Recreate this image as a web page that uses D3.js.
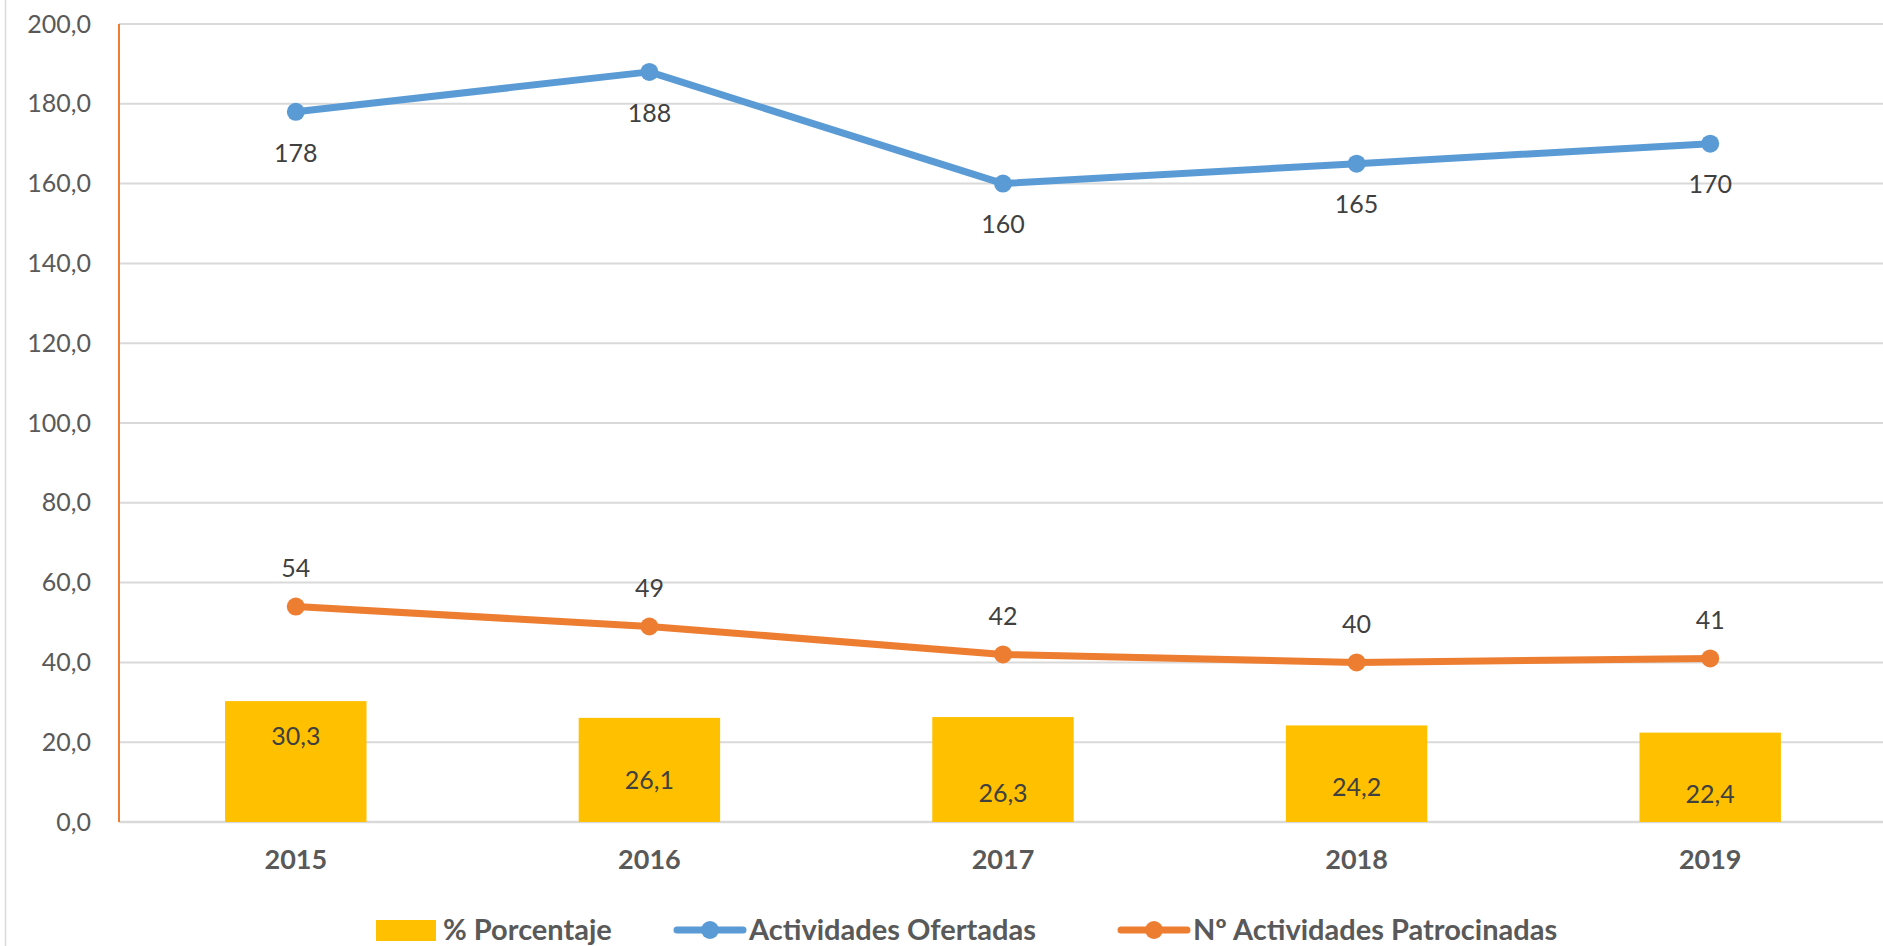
<!DOCTYPE html>
<html>
<head>
<meta charset="utf-8">
<script src="https://cdn.jsdelivr.net/npm/d3@7"></script>
<style>
body { margin: 0; background: #fff; }
svg, svg text { font-family: Lato, "Open Sans", sans-serif; }
svg { display: block; }
.tick text { fill: #595959; }
</style>
</head>
<body>
<div id="chart"></div>
<script>
var years = ["2015", "2016", "2017", "2018", "2019"];
var porcentaje = [30.3, 26.1, 26.3, 24.2, 22.4];
var ofertadas = [178, 188, 160, 165, 170];
var patrocinadas = [54, 49, 42, 40, 41];
var yTicks = [0, 20, 40, 60, 80, 100, 120, 140, 160, 180, 200];

// where Excel dropped the bar labels (px below bar top)
var barLabelDy = [35, 62, 76, 62, 62];

var W = 1883, H = 946;
var margin = {top: 24, left: 119, bottom: 124};
var plotRight = 119 + 5 * 353.6;

var svg = d3.select("#chart").append("svg")
  .attr("width", W)
  .attr("height", H);

// chart frame edge on the left
svg.append("line")
  .attr("x1", 5.5).attr("x2", 5.5)
  .attr("y1", 0).attr("y2", H)
  .attr("stroke", "#d9d9d9").attr("stroke-width", 1.5);

var x = d3.scaleBand()
  .domain(years)
  .range([margin.left, plotRight])
  .paddingInner(0.6)
  .paddingOuter(0.3);

var xPoint = function(d){ return x(d) + x.bandwidth() / 2; };

var y = d3.scaleLinear()
  .domain([0, 200])
  .range([H - margin.bottom, margin.top]);

// gridlines
svg.append("g")
  .selectAll("line")
  .data(yTicks)
  .enter()
  .append("line")
  .attr("x1", margin.left)
  .attr("x2", W)
  .attr("y1", function(d){ return y(d); })
  .attr("y2", function(d){ return y(d); })
  .attr("stroke", "#d9d9d9")
  .attr("stroke-width", function(d){ return d == 0 ? 2.5 : 2; });

// y axis
var yAxis = svg.append("g")
  .attr("transform", "translate(" + margin.left + ",0)")
  .call(d3.axisLeft(y).tickValues(yTicks).tickSize(0).tickPadding(28)
    .tickFormat(function(d){ return d3.format(".1f")(d).replace(".", ","); }));
yAxis.attr("font-family", null);
yAxis.select(".domain").remove();
yAxis.selectAll("text").style("font-size", "25px");

svg.append("line")
  .attr("x1", margin.left).attr("x2", margin.left)
  .attr("y1", y(200)).attr("y2", y(0))
  .attr("stroke", "#ed7d31").attr("stroke-width", 2);

// x axis
var xAxis = svg.append("g")
  .attr("transform", "translate(0," + y(0) + ")")
  .call(d3.axisBottom(x).tickSize(0).tickPadding(28));
xAxis.attr("font-family", null);
xAxis.select(".domain").remove();
xAxis.selectAll("text")
  .style("font-size", "27px")
  .style("font-weight", "bold");

// bars
svg.append("g")
  .selectAll("rect")
  .data(porcentaje)
  .enter()
  .append("rect")
  .attr("x", function(d, i){ return x(years[i]); })
  .attr("y", function(d){ return y(d); })
  .attr("width", x.bandwidth())
  .attr("height", function(d){ return y(0) - y(d); })
  .attr("fill", "#ffc000");

svg.append("g")
  .selectAll("text")
  .data(porcentaje)
  .enter()
  .append("text")
  .attr("x", function(d, i){ return xPoint(years[i]); })
  .attr("y", function(d, i){ return y(d) + barLabelDy[i]; })
  .attr("dy", "0.35em")
  .attr("text-anchor", "middle")
  .style("font-size", "25px")
  .attr("fill", "#404040")
  .text(function(d){ return d3.format(".1f")(d).replace(".", ","); });

var line = d3.line()
  .x(function(d, i){ return xPoint(years[i]); })
  .y(function(d){ return y(d); });

function drawSeries(vals, color, labelDy) {
  var g = svg.append("g");
  g.append("path")
    .datum(vals)
    .attr("d", line)
    .attr("fill", "none")
    .attr("stroke", color)
    .attr("stroke-width", 7)
    .attr("stroke-linejoin", "round");
  g.selectAll("circle")
    .data(vals)
    .enter()
    .append("circle")
    .attr("cx", function(d, i){ return xPoint(years[i]); })
    .attr("cy", function(d){ return y(d); })
    .attr("r", 9)
    .attr("fill", color);
  g.selectAll("text")
    .data(vals)
    .enter()
    .append("text")
    .attr("x", function(d, i){ return xPoint(years[i]); })
    .attr("y", function(d){ return y(d) + labelDy; })
    .attr("dy", "0.35em")
    .attr("text-anchor", "middle")
    .style("font-size", "25px")
    .attr("fill", "#404040")
    .text(function(d){ return d; });
}

drawSeries(ofertadas, "#5b9bd5", 41);
drawSeries(patrocinadas, "#ed7d31", -38);

// legend
var legend = svg.append("g").attr("class", "legend");
var legY = 930;

legend.append("rect")
  .attr("x", 376).attr("y", 920)
  .attr("width", 60).attr("height", 21)
  .attr("fill", "#ffc000");
legend.append("text")
  .attr("x", 443).attr("y", legY).attr("dy", "0.35em")
  .style("font-size", "29px").style("font-weight", "bold")
  .attr("fill", "#595959")
  .text("% Porcentaje");

var legLines = [
  {x: 677, color: "#5b9bd5", label: "Actividades Ofertadas"},
  {x: 1121, color: "#ed7d31", label: "Nº Actividades Patrocinadas"}
];
legLines.forEach(function(l){
  legend.append("line")
    .attr("x1", l.x).attr("x2", l.x + 66)
    .attr("y1", legY).attr("y2", legY)
    .attr("stroke", l.color).attr("stroke-width", 7)
    .attr("stroke-linecap", "round");
  legend.append("circle")
    .attr("cx", l.x + 33).attr("cy", legY).attr("r", 9)
    .attr("fill", l.color);
  legend.append("text")
    .attr("x", l.x + 72).attr("y", legY).attr("dy", "0.35em")
    .style("font-size", "29px").style("font-weight", "bold")
    .attr("fill", "#595959")
    .text(l.label);
});
</script>
</body>
</html>
